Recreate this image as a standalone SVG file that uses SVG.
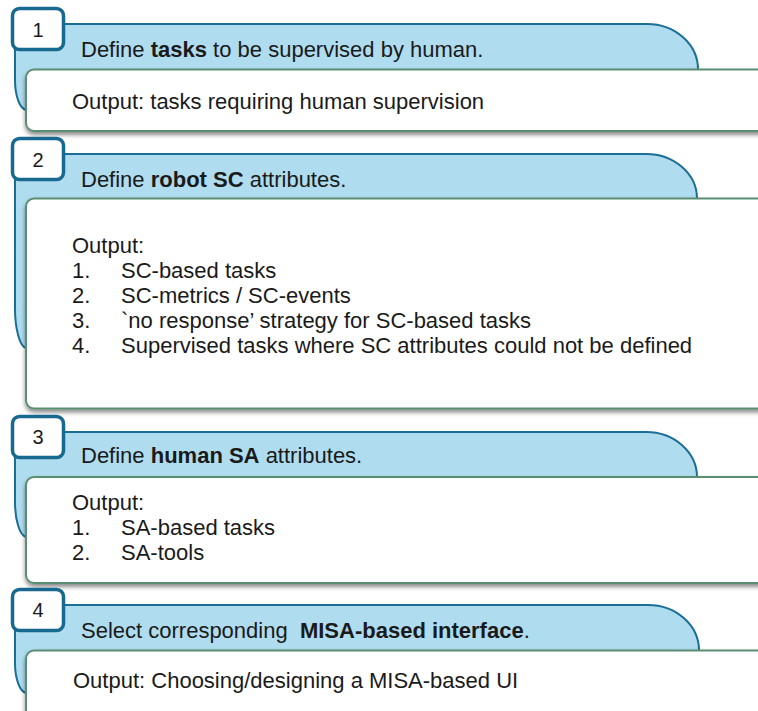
<svg xmlns="http://www.w3.org/2000/svg" width="758" height="711" viewBox="0 0 758 711">
<defs>
<style>
.tab{fill:#afdcef;stroke:#1b6e95;stroke-width:2}
.card{fill:#ffffff;stroke:#5a8e72;stroke-width:2;filter:url(#sh)}
.num{fill:#ffffff;stroke:#17698f;stroke-width:3.5}
text{font-family:"Liberation Sans",Arial,sans-serif;fill:#1a1a1a;font-size:22px}
.n{font-size:20px;text-anchor:middle}
.b{font-weight:bold}
</style>
<filter id="sh" x="-5%" y="-10%" width="110%" height="130%">
<feDropShadow dx="0" dy="3" stdDeviation="2" flood-color="#000" flood-opacity="0.45"/>
</filter>
</defs>
<rect width="758" height="711" fill="#ffffff"/>

<g id="step1">
<path class="tab" d="M15,24 H647 A51,45.5 0 0 1 698,69.5 V110 H26 A12,30 0 0 1 15,80 Z"/>
<rect class="card" x="26" y="69.5" width="760" height="61.5" rx="8"/>
<rect class="num" x="12.5" y="8.5" width="51" height="41" rx="7"/>
<text class="n" x="38" y="37">1</text>
<text x="81" y="57">Define <tspan class="b">tasks</tspan> to be supervised by human.</text>
<text x="72" y="109">Output: tasks requiring human supervision</text>
</g>

<g id="step2">
<path class="tab" d="M15,154 H646 A51,44.5 0 0 1 697,198.5 V348 H26 A12,40 0 0 1 15,308 Z"/>
<rect class="card" x="26" y="198.5" width="760" height="210" rx="8"/>
<rect class="num" x="12.5" y="138.5" width="51" height="41" rx="7"/>
<text class="n" x="38" y="167">2</text>
<text x="81" y="187">Define <tspan class="b">robot SC</tspan> attributes.</text>
<text x="72" y="253">Output:</text>
<text x="72" y="278">1.</text><text x="121" y="278">SC-based tasks</text>
<text x="72" y="303">2.</text><text x="121" y="303">SC-metrics / SC-events</text>
<text x="72" y="328">3.</text><text x="121" y="328">`no response’ strategy for SC-based tasks</text>
<text x="72" y="353">4.</text><text x="121" y="353">Supervised tasks where SC attributes could not be defined</text>
</g>

<g id="step3">
<path class="tab" d="M15,432 H646 A51,45 0 0 1 697,477 V537 H26 A12,35 0 0 1 15,502 Z"/>
<rect class="card" x="26" y="477" width="760" height="106" rx="8"/>
<rect class="num" x="12.5" y="416.5" width="51" height="41" rx="7"/>
<text class="n" x="38" y="444">3</text>
<text x="81" y="463">Define <tspan class="b">human SA</tspan> attributes.</text>
<text x="72" y="510">Output:</text>
<text x="72" y="535">1.</text><text x="121" y="535">SA-based tasks</text>
<text x="72" y="560">2.</text><text x="121" y="560">SA-tools</text>
</g>

<g id="step4">
<path class="tab" d="M15,605 H648 A51,45.5 0 0 1 699,650.5 V693 H26 A12,30 0 0 1 15,663 Z"/>
<rect class="card" x="26" y="650.5" width="760" height="90" rx="8"/>
<rect class="num" x="12.5" y="589.5" width="51" height="41" rx="7"/>
<text class="n" x="38" y="617">4</text>
<text x="81" y="638" xml:space="preserve">Select corresponding  <tspan class="b">MISA-based interface</tspan>.</text>
<text x="73" y="688">Output: Choosing/designing a MISA-based UI</text>
</g>

<g id="connectors"></g>
</svg>
